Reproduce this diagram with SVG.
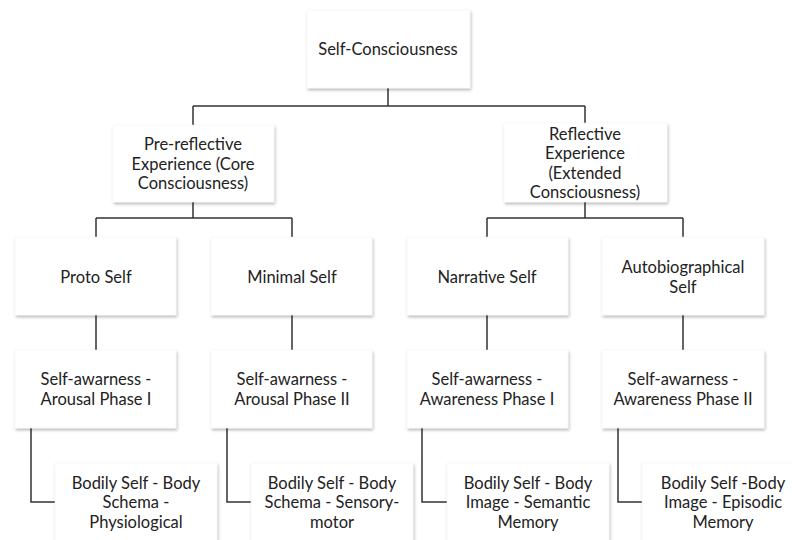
<svg xmlns="http://www.w3.org/2000/svg" width="792" height="540" viewBox="0 0 792 540">
<defs>
<filter id="sh" x="-10%" y="-10%" width="125%" height="130%">
<feDropShadow dx="1" dy="2" stdDeviation="1.5" flood-color="#000" flood-opacity="0.28"/>
</filter>
<style>
.box{fill:#fff;stroke:#f2f2f2;stroke-width:0.5;filter:url(#sh)}
.t{font-family:Lato,"Open Sans","Liberation Sans",sans-serif;font-size:16.5px;fill:#222;text-anchor:middle}
.c{fill:none;stroke:#333;stroke-width:1.5}
</style>
</defs>
<rect width="792" height="540" fill="#fff"/>
<g id="connectors">
<path class="c" d="M388 88V106M193 106H585M193 106V125M585 106V123"/>
<path class="c" d="M193 202V218M96 218H292M96 218V237M292 218V237"/>
<path class="c" d="M585 202V218M487 218H683M487 218V237M683 218V237"/>
<path class="c" d="M96 315V350M292 315V350M487 315V350M683 315V350"/>
<path class="c" d="M31 428V502H55M227 428V502H251M422 428V502H447M618 428V502H642"/>
</g>
<g id="n-self-consciousness"><rect class="box" x="307" y="10" width="163" height="78"/><text class="t" x="388" y="55">Self-Consciousness</text></g>
<g id="n-pre-reflective"><rect class="box" x="113" y="125" width="161" height="77"/><text class="t" x="193" y="150">Pre-reflective</text><text class="t" x="193" y="169.5">Experience (Core</text><text class="t" x="193" y="189">Consciousness)</text></g>
<g id="n-reflective"><rect class="box" x="504" y="123" width="163" height="79"/><text class="t" x="585" y="139.5">Reflective</text><text class="t" x="585" y="159">Experience</text><text class="t" x="585" y="178.5">(Extended</text><text class="t" x="585" y="198">Consciousness)</text></g>
<g id="n-proto"><rect class="box" x="15" y="237" width="161" height="78"/><text class="t" x="96" y="282.5">Proto Self</text></g>
<g id="n-minimal"><rect class="box" x="211" y="237" width="161" height="78"/><text class="t" x="292" y="282.5">Minimal Self</text></g>
<g id="n-narrative"><rect class="box" x="407" y="237" width="161" height="78"/><text class="t" x="487" y="282.5">Narrative Self</text></g>
<g id="n-autobiographical"><rect class="box" x="602" y="237" width="162" height="78"/><text class="t" x="683" y="273">Autobiographical</text><text class="t" x="683" y="292.5">Self</text></g>
<g id="n-arousal1"><rect class="box" x="15" y="350" width="161" height="78"/><text class="t" x="96" y="385">Self-awarness -</text><text class="t" x="96" y="404.5">Arousal Phase I</text></g>
<g id="n-arousal2"><rect class="box" x="211" y="350" width="161" height="78"/><text class="t" x="292" y="385">Self-awarness -</text><text class="t" x="292" y="404.5">Arousal Phase II</text></g>
<g id="n-awareness1"><rect class="box" x="407" y="350" width="161" height="78"/><text class="t" x="487" y="385">Self-awarness -</text><text class="t" x="487" y="404.5">Awareness Phase I</text></g>
<g id="n-awareness2"><rect class="box" x="602" y="350" width="162" height="78"/><text class="t" x="683" y="385">Self-awarness -</text><text class="t" x="683" y="404.5">Awareness Phase II</text></g>
<g id="n-bodily1"><rect class="box" x="55" y="463" width="162" height="90"/><text class="t" x="136" y="488.5">Bodily Self - Body</text><text class="t" x="136" y="508">Schema -</text><text class="t" x="136" y="527.5">Physiological</text></g>
<g id="n-bodily2"><rect class="box" x="251" y="463" width="162" height="90"/><text class="t" x="332" y="488.5">Bodily Self - Body</text><text class="t" x="332" y="508">Schema - Sensory-</text><text class="t" x="332" y="527.5">motor</text></g>
<g id="n-bodily3"><rect class="box" x="447" y="463" width="162" height="90"/><text class="t" x="528" y="488.5">Bodily Self - Body</text><text class="t" x="528" y="508">Image - Semantic</text><text class="t" x="528" y="527.5">Memory</text></g>
<g id="n-bodily4"><rect class="box" x="642" y="463" width="162" height="90"/><text class="t" x="723" y="488.5">Bodily Self -Body</text><text class="t" x="723" y="508">Image - Episodic</text><text class="t" x="723" y="527.5">Memory</text></g>
</svg>
